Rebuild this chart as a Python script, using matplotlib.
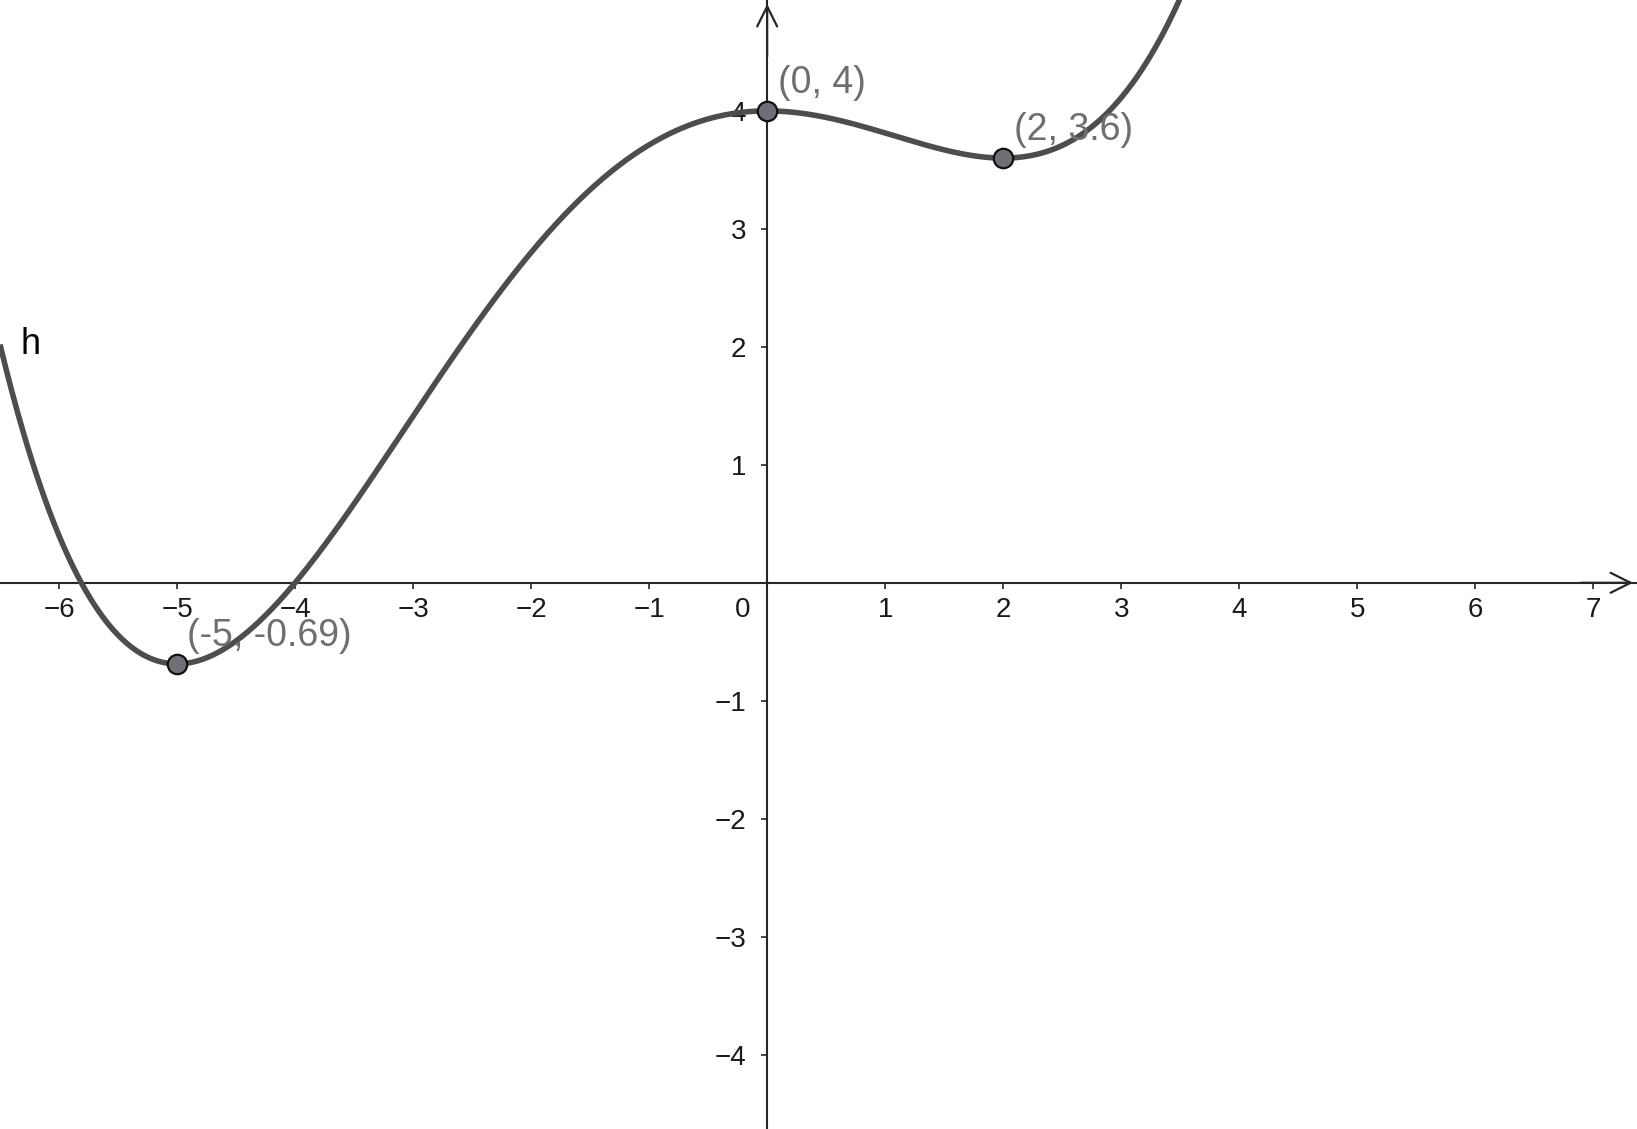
import matplotlib.pyplot as plt
import numpy as np

# h(x) = 0.0125 x^4 + 0.05 x^3 - 0.25 x^2 + 4  (extrema at -5, 0, 2)
h_coeffs = [0.0125, 0.05, -0.25, 0.0, 4.0]
point_x = [-5, 0, 2]
point_y = [-0.69, 4, 3.6]
point_labels = ['(-5, -0.69)', '(0, 4)', '(2, 3.6)']
x_ticks = [-6, -5, -4, -3, -2, -1, 1, 2, 3, 4, 5, 6, 7]
y_ticks = [-4, -3, -2, -1, 1, 2, 3, 4]

plt.rcParams['font.family'] = ['Liberation Sans', 'DejaVu Sans']

fig = plt.figure(figsize=(16.37, 11.29), dpi=100)
ax = fig.add_axes([0, 0, 1, 1])
xmin, xmax = -6.5, 7.37
ymin, ymax = -4.63, 4.94
ax.set_xlim(xmin, xmax)
ax.set_ylim(ymin, ymax)

axis_col = '#262626'
for s in ['top', 'right']:
    ax.spines[s].set_visible(False)
ax.spines['left'].set_position('zero')
ax.spines['bottom'].set_position('zero')
for s in ['left', 'bottom']:
    ax.spines[s].set_color(axis_col)
    ax.spines[s].set_linewidth(1.5)

ax.set_xticks(x_ticks)
ax.set_yticks(y_ticks)
ax.tick_params(direction='out', length=4, width=1.2, color=axis_col,
               labelsize=20, labelcolor='#1a1a1a')
ax.tick_params(axis='x', pad=6)
ax.tick_params(axis='y', pad=11)
ax.text(-0.21, -0.23, '0', fontsize=20, color='#1a1a1a', ha='center', va='center')

# axis arrows
ax.annotate('', xy=(xmax - 0.01, 0), xytext=(xmax - 0.5, 0),
            arrowprops=dict(arrowstyle='->', lw=1.6, color=axis_col, mutation_scale=36))
ax.annotate('', xy=(0, ymax - 0.01), xytext=(0, ymax - 0.5),
            arrowprops=dict(arrowstyle='->', lw=1.6, color=axis_col, mutation_scale=36))

# curve
xs = np.linspace(xmin, 3.7, 800)
ax.plot(xs, np.polyval(h_coeffs, xs), color='#4d4d4d', lw=4, solid_capstyle='butt', zorder=3)

# points
ax.plot(point_x, point_y, 'o', ms=14, mfc='#6f6f78', mec='#111111', mew=1.6, zorder=4)
for px, py, lab in zip(point_x, point_y, point_labels):
    ax.annotate(lab, (px, py), xytext=(7.5, 7), textcoords='offset points',
                fontsize=27, color='#6e6e70', ha='left', va='bottom', zorder=5)

ax.text(-6.33, 2.02, 'h', fontsize=26, color='black', ha='left', va='center')

fig.savefig('out.png', dpi=100)
